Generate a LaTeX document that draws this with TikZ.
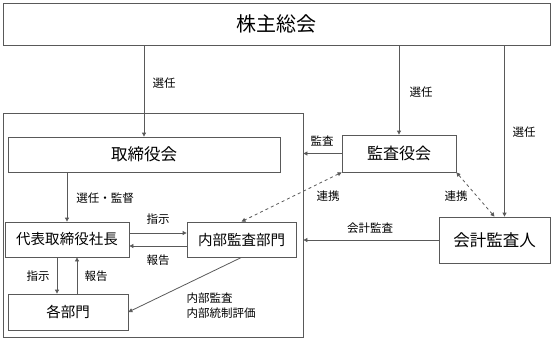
\documentclass[tikz,border=0pt]{standalone}
\usepackage{fontspec}
\setmainfont{Noto Sans CJK JP}
\usetikzlibrary{arrows.meta}

\begin{document}
\begin{tikzpicture}[x=1pt,y=-1pt,
  box/.style={draw=black!65,line width=0.8pt,inner sep=0pt},
  lbl/.style={font=\fontsize{11.5}{15}\selectfont},
  conn/.style={draw=black!65,line width=0.8pt,-{Triangle[length=4pt,width=4pt]}},
  link/.style={conn,dashed,{Triangle[length=4pt,width=4pt]}-{Triangle[length=4pt,width=4pt]}}]
\useasboundingbox (0,0) rectangle (553,340);
\node[box,minimum width=547,minimum height=42,font=\fontsize{20}{22}\selectfont] (gm) at (276.5,24) {株主総会};
\node[box,minimum width=300,minimum height=224] (frame) at (153,225) {};
\node[box,minimum width=272,minimum height=35,font=\fontsize{16.5}{18}\selectfont] (board) at (144,154.5) {取締役会};
\node[box,minimum width=124,minimum height=35,font=\fontsize{14.5}{16}\selectfont] (ceo) at (67,239.5) {代表取締役社長};
\node[box,minimum width=109,minimum height=35,font=\fontsize{14.5}{16}\selectfont] (audit) at (241.5,239.5) {内部監査部門};
\node[box,minimum width=120,minimum height=36,font=\fontsize{14.5}{16}\selectfont] (dept) at (68,312) {各部門};
\node[box,minimum width=114,minimum height=37,font=\fontsize{16}{18}\selectfont] (kansa) at (399,153.5) {監査役会};
\node[box,minimum width=111,minimum height=46,font=\fontsize{16.5}{18}\selectfont] (kaikei) at (494.5,240) {会計監査人};

\draw[conn] (gm.south -| board.north) -- (board.north);
\draw[conn] (gm.south -| kansa.north) -- (kansa.north);
\draw[conn] ([xshift=10pt]kaikei.north |- gm.south) -- ([xshift=10pt]kaikei.north);
\draw[conn] (board.south -| ceo.north) -- (ceo.north);
\draw[conn] ([yshift=6.5pt]ceo.east) -- ([yshift=6.5pt]ceo.east -| audit.west);
\draw[conn] ([yshift=-6.5pt]audit.west) -- ([yshift=-6.5pt]audit.west -| ceo.east);
\draw[conn] ([xshift=-10pt]ceo.south) -- ([xshift=-10pt]ceo.south |- dept.north);
\draw[conn] ([xshift=9pt]dept.north) -- ([xshift=9pt]dept.north |- ceo.south);
\draw[conn] (audit.south) -- (dept.east);
\draw[conn] (kansa.west) -- (kansa.west -| frame.east);
\draw[conn] (kaikei.west) -- (kaikei.west -| frame.east);
\draw[link] (kansa.south west) -- (audit.north);
\draw[link] (kansa.south east) -- (kaikei.north);

\node[lbl] (sel1) at (164,83) {選任};
\node[lbl] (sel2) at (421,92) {選任};
\node[lbl] (sel3) at (524,132) {選任};
\node[lbl] (selsup) at (105,198) {選任・監督};
\node[lbl] (inst1) at (158,219) {指示};
\node[lbl] (rep1) at (158,260) {報告};
\node[lbl] (inst2) at (38,276) {指示};
\node[lbl] (rep2) at (96,276) {報告};
\node[lbl,align=left,anchor=west] (iaudit) at (183,306) {内部監査\\内部統制評価};
\node[lbl] (kansalbl) at (322,141) {監査};
\node[lbl] (link1) at (328,196) {連携};
\node[lbl] (link2) at (456,196) {連携};
\node[lbl] (kaikeilbl) at (370,228) {会計監査};
\end{tikzpicture}
\end{document}
